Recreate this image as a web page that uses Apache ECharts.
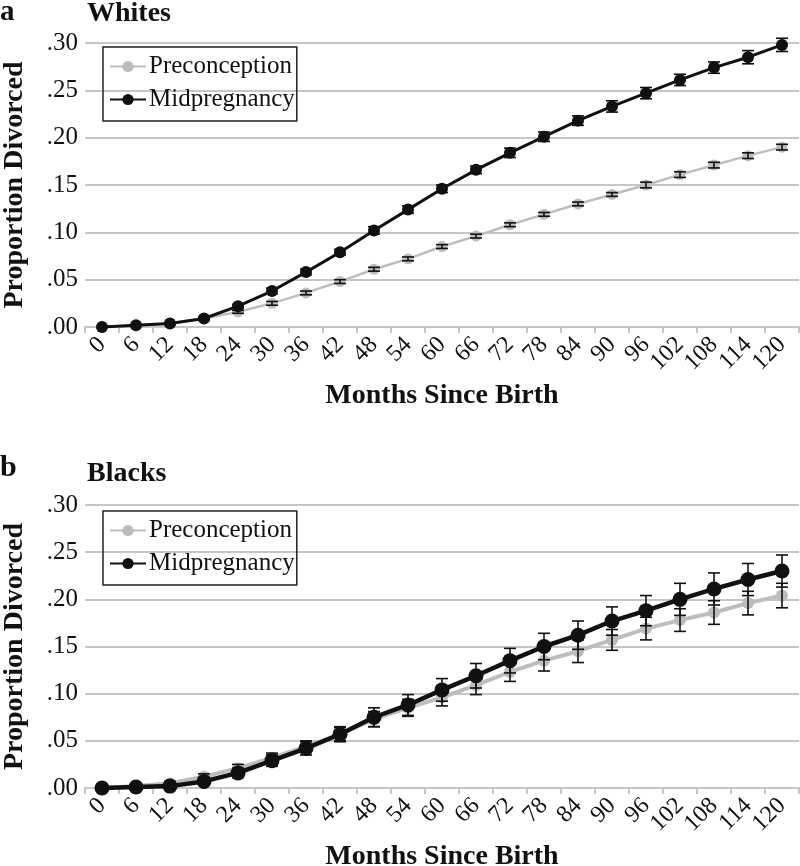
<!DOCTYPE html>
<html>
<head>
<meta charset="utf-8">
<script src="https://cdn.jsdelivr.net/npm/echarts@6/dist/echarts.min.js"></script>
<style>
  html, body { margin: 0; padding: 0; background: #fff; }
  #chart { width: 800px; height: 866px; }
</style>
</head>
<body>
<div id="chart"></div>
<script>
// months since birth (x categories)
const months = [0, 6, 12, 18, 24, 30, 36, 42, 48, 54, 60, 66, 72, 78, 84, 90, 96, 102, 108, 114, 120];

// panel a: Whites
const whitesPre    = [0, 0.0015, 0.004, 0.009, 0.016, 0.025, 0.036, 0.048, 0.061, 0.072, 0.085, 0.096, 0.108, 0.119, 0.130, 0.140, 0.150, 0.161, 0.171, 0.181, 0.190];
const whitesPreErr = [0, 0.0005, 0.001, 0.001, 0.0015, 0.002, 0.002, 0.002, 0.002, 0.002, 0.002, 0.002, 0.002, 0.002, 0.002, 0.002, 0.003, 0.003, 0.003, 0.003, 0.003];
const whitesMid    = [0, 0.0018, 0.0036, 0.009, 0.022, 0.038, 0.058, 0.079, 0.102, 0.124, 0.146, 0.166, 0.184, 0.201, 0.218, 0.233, 0.247, 0.261, 0.274, 0.285, 0.298];
const whitesMidErr = [0, 0.0005, 0.001, 0.002, 0.002, 0.003, 0.003, 0.003, 0.004, 0.004, 0.004, 0.004, 0.005, 0.005, 0.005, 0.006, 0.006, 0.006, 0.006, 0.007, 0.007];

// panel b: Blacks
const blacksPre    = [0, 0.002, 0.005, 0.012, 0.021, 0.032, 0.044, 0.057, 0.073, 0.085, 0.096, 0.109, 0.123, 0.135, 0.145, 0.157, 0.169, 0.178, 0.186, 0.196, 0.204];
const blacksPreErr = [0, 0.001, 0.002, 0.003, 0.004, 0.005, 0.006, 0.007, 0.008, 0.009, 0.009, 0.010, 0.010, 0.011, 0.012, 0.011, 0.012, 0.012, 0.0125, 0.0125, 0.013];
const blacksMid    = [0, 0.001, 0.002, 0.007, 0.016, 0.029, 0.042, 0.057, 0.075, 0.088, 0.104, 0.119, 0.135, 0.150, 0.162, 0.177, 0.188, 0.200, 0.211, 0.221, 0.230];
const blacksMidErr = [0, 0.001, 0.002, 0.003, 0.005, 0.006, 0.007, 0.008, 0.010, 0.011, 0.012, 0.013, 0.013, 0.014, 0.015, 0.015, 0.016, 0.017, 0.017, 0.017, 0.017];

const seriesNames = ['Preconception', 'Midpregnancy'];

const FONT = '"Liberation Serif", "DejaVu Serif", serif';
const GRAY = '#bdbdbd';
const BLACK = '#111111';
const GRID_GRAY = '#c6c6c6';

const chart = echarts.init(document.getElementById('chart'));

function errRender(params, api) {
  const x = api.value(0);
  const lo = api.value(1);
  const hi = api.value(2);
  if (hi - lo < 0.0015) return null;
  const pt = api.coord([x, hi]);
  const pb = api.coord([x, lo]);
  const hw = 6;
  const st = { stroke: BLACK, lineWidth: 1.6 };
  return {
    type: 'group',
    children: [
      { type: 'line', shape: { x1: pt[0], y1: pt[1], x2: pb[0], y2: pb[1] }, style: st },
      { type: 'line', shape: { x1: pt[0] - hw, y1: pt[1], x2: pt[0] + hw, y2: pt[1] }, style: st },
      { type: 'line', shape: { x1: pb[0] - hw, y1: pb[1], x2: pb[0] + hw, y2: pb[1] }, style: st }
    ]
  };
}

function errData(vals, errs) {
  return vals.map((v, i) => [i, Math.max(0, v - errs[i]), v + errs[i]]);
}

function panelAxes(idx) {
  return {
    x: {
      type: 'category',
      gridIndex: idx,
      data: months.map(String),
      boundaryGap: true,
      name: 'Months Since Birth',
      nameLocation: 'middle',
      nameGap: 55,
      nameTextStyle: { fontFamily: FONT, fontWeight: 'bold', fontSize: 28, color: BLACK },
      axisLine: { lineStyle: { color: GRID_GRAY, width: 2 } },
      axisTick: { show: true, length: 6, lineStyle: { color: GRID_GRAY, width: 2 } },
      axisLabel: { rotate: 45, fontFamily: FONT, fontSize: 24, color: BLACK, margin: 14, interval: 0 }
    },
    y: {
      type: 'value',
      gridIndex: idx,
      min: 0,
      max: 0.30,
      interval: 0.05,
      name: 'Proportion Divorced',
      nameLocation: 'middle',
      nameGap: 56,
      nameTextStyle: { fontFamily: FONT, fontWeight: 'bold', fontSize: 28, color: BLACK },
      axisLine: { show: false },
      axisTick: { show: false },
      splitLine: { lineStyle: { color: GRID_GRAY, width: 2 } },
      axisLabel: {
        fontFamily: FONT, fontSize: 25, color: BLACK, margin: 7,
        formatter: v => v.toFixed(2).replace(/^0/, '')
      }
    }
  };
}

const axA = panelAxes(0);
const axB = panelAxes(1);

function lineSeries(name, data, idx, color, width, symSize, z) {
  return {
    name: name,
    type: 'line',
    xAxisIndex: idx,
    yAxisIndex: idx,
    data: data,
    symbol: 'circle',
    symbolSize: symSize,
    showAllSymbol: true,
    itemStyle: { color: color },
    lineStyle: { color: color, width: width },
    z: z,
    animation: false
  };
}

function errSeries(vals, errs, idx) {
  return {
    type: 'custom',
    xAxisIndex: idx,
    yAxisIndex: idx,
    renderItem: errRender,
    data: errData(vals, errs),
    encode: { x: 0, y: [1, 2] },
    z: 5,
    silent: true,
    animation: false
  };
}

function legendAt(top) {
  return {
    orient: 'vertical',
    left: 103,
    top: top,
    data: seriesNames,
    padding: [7, 2, 9, 6],
    itemGap: 8,
    itemWidth: 36,
    itemHeight: 14,
    borderColor: '#222',
    borderWidth: 1.5,
    textStyle: { fontFamily: FONT, fontSize: 25, color: BLACK, padding: [0, 0, 0, -2] },
    selectedMode: false
  };
}

const option = {
  backgroundColor: '#fff',
  animation: false,
  title: [
    { text: 'a', left: 0, top: -2, padding: 0, textStyle: { fontFamily: FONT, fontWeight: 'bold', fontSize: 29, color: BLACK } },
    { text: 'Whites', left: 87, top: 0, padding: 0, textStyle: { fontFamily: FONT, fontWeight: 'bold', fontSize: 28, color: BLACK } },
    { text: 'b', left: 0, top: 453, padding: 0, textStyle: { fontFamily: FONT, fontWeight: 'bold', fontSize: 30, color: BLACK } },
    { text: 'Blacks', left: 87, top: 460, padding: 0, textStyle: { fontFamily: FONT, fontWeight: 'bold', fontSize: 28, color: BLACK } }
  ],
  legend: [legendAt(47), legendAt(511)],
  grid: [
    { left: 85, right: 1, top: 43, height: 284, outerBoundsMode: 'none' },
    { left: 85, right: 1, top: 505, height: 283, outerBoundsMode: 'none' }
  ],
  xAxis: [axA.x, axB.x],
  yAxis: [axA.y, axB.y],
  series: [
    lineSeries('Preconception', whitesPre, 0, GRAY, 2.5, 11, 2),
    lineSeries('Midpregnancy', whitesMid, 0, BLACK, 3, 12, 3),
    errSeries(whitesPre, whitesPreErr, 0),
    errSeries(whitesMid, whitesMidErr, 0),
    lineSeries('Preconception', blacksPre, 1, GRAY, 4, 12, 2),
    lineSeries('Midpregnancy', blacksMid, 1, BLACK, 4.5, 15, 3),
    errSeries(blacksPre, blacksPreErr, 1),
    errSeries(blacksMid, blacksMidErr, 1)
  ]
};

chart.setOption(option);
</script>
</body>
</html>
